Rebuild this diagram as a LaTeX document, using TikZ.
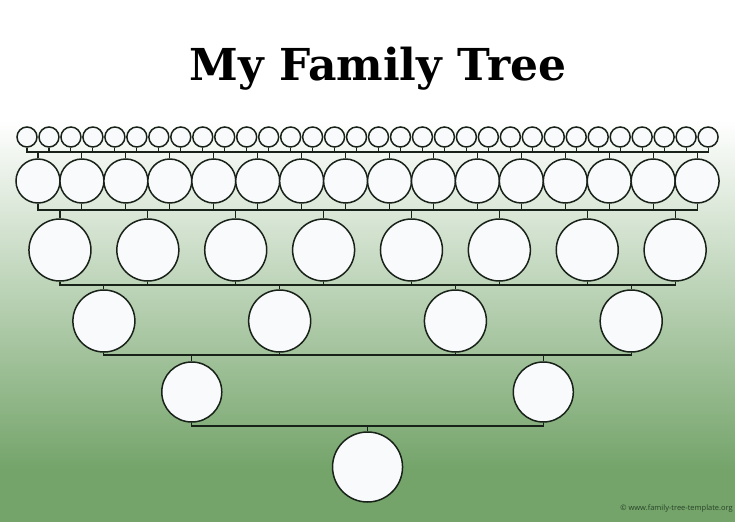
\documentclass[tikz,border=0pt]{standalone}
\usepackage{fontspec}
\newfontfamily\titlefont{DejaVu Serif}
\newfontfamily\notefont{Open Sans}
\definecolor{bgreen}{RGB}{116,164,106}
\definecolor{bmid}{RGB}{166,197,156}
\definecolor{ink}{RGB}{24,34,24}
\definecolor{cfill}{RGB}{249,250,252}
\definecolor{notecol}{RGB}{40,66,40}
\tikzset{
  pers/.style={circle, draw=ink, fill=cfill, line width=1.5pt, inner sep=0pt},
  leaf/.style={pers, minimum size=20pt},
  r2/.style={pers, minimum size=44pt},
  r3/.style={pers, minimum size=62pt},
  r4/.style={pers, minimum size=62pt},
  r5/.style={pers, minimum size=60pt},
  r6/.style={pers, minimum size=70pt},
  link/.style={draw=ink, line width=1.1pt}
}
\begin{document}
\begin{tikzpicture}[x=1pt,y=-1pt]
\useasboundingbox (0,0) rectangle (735,522);
\fill[white] (0,0) rectangle (735,120);
\shade[top color=white, middle color=bmid, bottom color=bgreen] (0,120) rectangle (735,470);
\fill[bgreen] (0,469.5) rectangle (735,522);
\node[font=\titlefont\bfseries\fontsize{44}{50}\selectfont, anchor=base] (title) at (378,80) {My Family Tree};
\coordinate (l1) at (0,152);
\coordinate (l2) at (0,210);
\coordinate (l3) at (0,285);
\coordinate (l4) at (0,355);
\coordinate (l5) at (0,426);
\def\sp{21.97}
\foreach \i in {1,...,32} \node[leaf] (a\i) at ({27+\sp*(\i-1)},137) {};
\foreach \i in {1,...,16} \node[r2] (b\i) at ({27+\sp*(2*(\i-1)+0.5)},181) {};
\foreach \i in {1,...,8} \node[r3] (c\i) at ({27+\sp*(4*(\i-1)+1.5)},250) {};
\foreach \i in {1,...,4} \node[r4] (d\i) at ({27+\sp*(8*(\i-1)+3.5)},321) {};
\foreach \i in {1,...,2} \node[r5] (e\i) at ({27+\sp*(16*(\i-1)+7.5)},392) {};
\node[r6] (f1) at ({27+\sp*15.5},467) {};
% connectors
\draw[link] (a1.south |- l1) -- (a32.south |- l1);
\foreach \i [evaluate=\i as \j using {int((\i+1)/2)}] in {1,...,32}
  \draw[link] (a\i.south) -- (a\i.south |- l1) -| (b\j.north);
\draw[link] (b1.south |- l2) -- (b16.south |- l2);
\foreach \i [evaluate=\i as \j using {int((\i+1)/2)}] in {1,...,16}
  \draw[link] (b\i.south) -- (b\i.south |- l2) -| (c\j.north);
\draw[link] (c1.south |- l3) -- (c8.south |- l3);
\foreach \i [evaluate=\i as \j using {int((\i+1)/2)}] in {1,...,8}
  \draw[link] (c\i.south) -- (c\i.south |- l3) -| (d\j.north);
\draw[link] (d1.south |- l4) -- (d4.south |- l4);
\foreach \i [evaluate=\i as \j using {int((\i+1)/2)}] in {1,...,4}
  \draw[link] (d\i.south) -- (d\i.south |- l4) -| (e\j.north);
\foreach \i in {1,2}
  \draw[link] (e\i.south) -- (e\i.south |- l5) -| (f1.north);
\node[font=\notefont\fontsize{7.5}{9}\selectfont, text=notecol, anchor=east, inner sep=0pt] (note) at (733,509) {© www.family-tree-template.org};
\end{tikzpicture}
\end{document}
